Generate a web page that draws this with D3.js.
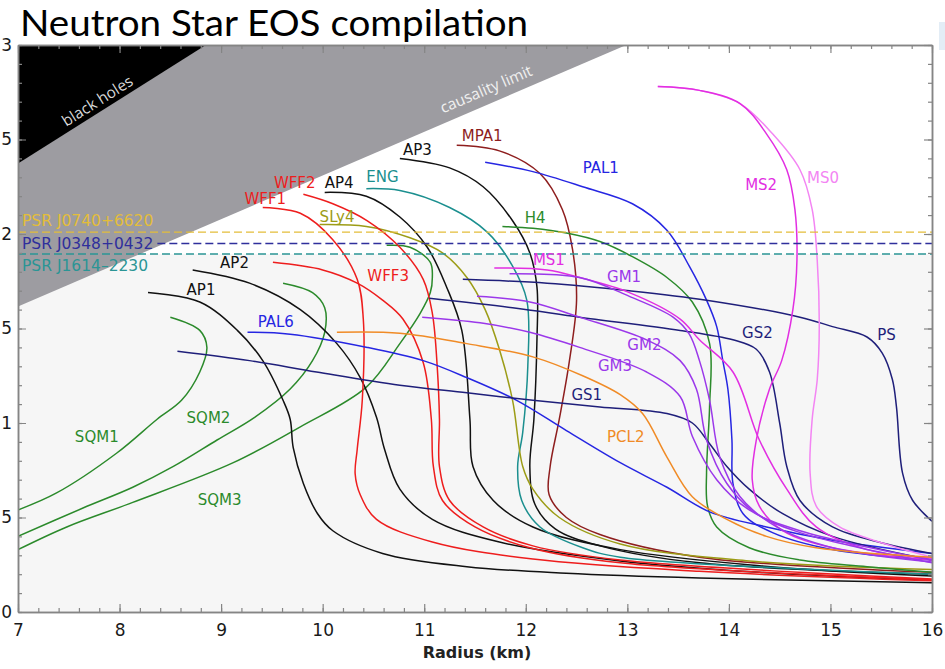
<!DOCTYPE html>
<html>
<head>
<meta charset="utf-8">
<script src="https://cdn.jsdelivr.net/npm/d3@7"></script>
<style>
body { margin: 0; background: #fff; }
svg { display: block; }
</style>
</head>
<body>
<script>
// mass-radius curves, [radius km, mass Msun]
var sqm1 = [[8.50,1.56],[8.79,1.49],[8.86,1.40],[8.79,1.27],[8.61,1.12],[8.37,1.02],[7.97,0.84],[7.38,0.63],[7.00,0.54]];
var sqm2 = [[9.61,1.74],[9.90,1.69],[10.02,1.61],[10.02,1.48],[9.90,1.33],[9.68,1.18],[9.33,1.03],[8.96,0.91],[8.53,0.77],[8.13,0.66],[7.64,0.55],[7.00,0.40]];
var sqm3 = [[10.63,1.94],[10.86,1.93],[11.06,1.85],[11.08,1.77],[11.06,1.69],[10.96,1.58],[10.76,1.42],[10.43,1.19],[9.78,0.98],[9.12,0.79],[8.13,0.58],[7.48,0.45],[7.00,0.33]];
var ap1 = [[8.28,1.69],[8.79,1.64],[9.16,1.49],[9.41,1.33],[9.61,1.12],[9.68,1.02],[9.71,0.87],[9.81,0.68],[9.95,0.52],[10.10,0.43],[10.59,0.31],[11.42,0.24],[12.40,0.205],[13.71,0.18],[16.0,0.155]];
var ap2 = [[8.72,1.81],[9.28,1.74],[9.78,1.60],[10.14,1.42],[10.37,1.24],[10.53,1.03],[10.61,0.86],[10.76,0.65],[11.08,0.49],[11.74,0.37],[12.93,0.27],[14.30,0.21],[16.0,0.17]];
var ap3 = [[10.76,2.40],[11.25,2.35],[11.58,2.25],[11.87,2.07],[12.04,1.90],[12.11,1.72],[12.11,1.44],[12.08,1.02],[12.04,0.77],[12.09,0.57],[12.29,0.44],[12.73,0.35],[13.71,0.26],[16.0,0.20]];
var ap4 = [[10.02,2.22],[10.43,2.20],[10.76,2.09],[11.03,1.93],[11.22,1.72],[11.37,1.49],[11.45,1.02],[11.48,0.77],[11.68,0.59],[12.07,0.45],[12.93,0.33],[14.30,0.245],[16.0,0.19]];
var mpa1 = [[11.32,2.47],[11.74,2.44],[12.14,2.32],[12.36,2.13],[12.46,1.92],[12.50,1.65],[12.43,1.33],[12.33,1.02],[12.24,0.77],[12.23,0.62],[12.40,0.50],[12.73,0.41],[13.71,0.29],[16.0,0.21]];
var eng = [[10.43,2.24],[10.76,2.23],[11.25,2.14],[11.62,2.01],[11.87,1.83],[12.01,1.65],[12.02,1.30],[11.97,0.95],[11.92,0.77],[11.96,0.59],[12.14,0.45],[12.56,0.34],[12.93,0.29],[16.0,0.20]];
var sly4 = [[9.97,2.05],[10.43,2.04],[10.86,1.98],[11.18,1.90],[11.42,1.77],[11.60,1.60],[11.74,1.39],[11.87,1.12],[11.97,0.77],[12.07,0.65],[12.33,0.50],[12.93,0.36],[14.20,0.27],[16.0,0.225]];
var wff1 = [[9.41,2.14],[9.78,2.11],[10.10,1.97],[10.34,1.76],[10.40,1.55],[10.39,1.12],[10.34,0.86],[10.32,0.73],[10.37,0.62],[10.53,0.49],[11.08,0.37],[12.07,0.28],[13.71,0.215],[16.0,0.165]];
var wff2 = [[9.81,2.21],[10.10,2.16],[10.44,2.07],[10.76,1.93],[10.99,1.76],[11.08,1.58],[11.13,1.28],[11.15,1.02],[11.15,0.77],[11.25,0.59],[11.58,0.45],[12.07,0.35],[12.93,0.275],[16.0,0.175]];
var wff3 = [[9.51,1.85],[10.00,1.81],[10.34,1.74],[10.59,1.65],[10.79,1.55],[10.99,1.32],[11.07,1.02],[11.09,0.77],[11.18,0.59],[11.50,0.45],[12.04,0.34],[12.93,0.26],[16.0,0.17]];
var h4 = [[11.77,2.04],[12.07,2.03],[12.40,2.005],[12.73,1.96],[13.05,1.88],[13.39,1.77],[13.64,1.64],[13.81,1.42],[13.81,1.09],[13.78,0.74],[13.79,0.56],[13.88,0.45],[14.20,0.34],[14.70,0.275],[15.36,0.24],[16.0,0.21]];
var pal1 = [[11.60,2.38],[12.07,2.33],[12.56,2.25],[13.05,2.16],[13.39,2.02],[13.61,1.83],[13.78,1.65],[13.88,1.51],[13.94,1.33],[13.99,1.18],[14.03,0.91],[14.04,0.68],[14.14,0.52],[14.43,0.42],[15.02,0.33],[16.0,0.275]];
var pal6 = [[9.26,1.48],[9.68,1.47],[10.44,1.40],[10.99,1.33],[11.42,1.24],[11.91,1.12],[12.40,0.96],[12.93,0.79],[13.39,0.66],[13.81,0.53],[14.37,0.45],[15.02,0.38],[16.0,0.31]];
var gs1 = [[8.57,1.38],[9.28,1.33],[9.94,1.27],[10.76,1.20],[11.42,1.16],[12.07,1.12],[12.73,1.085],[13.39,1.05],[13.64,1.00],[13.81,0.89],[13.98,0.77],[14.20,0.65],[14.53,0.52],[15.02,0.40],[16.0,0.275]];
var gs2 = [[11.05,1.66],[11.87,1.61],[12.53,1.56],[13.52,1.49],[14.04,1.44],[14.27,1.39],[14.40,1.27],[14.50,1.00],[14.57,0.77],[14.70,0.59],[15.02,0.45],[15.51,0.365],[16.0,0.31]];
var ps = [[11.38,1.76],[12.21,1.74],[13.02,1.70],[13.78,1.65],[14.70,1.56],[15.02,1.51],[15.36,1.455],[15.51,1.37],[15.61,1.23],[15.65,1.085],[15.71,0.735],[15.81,0.59],[16.0,0.48]];
var ms0 = [[13.30,2.78],[13.71,2.76],[14.11,2.69],[14.43,2.53],[14.70,2.34],[14.82,2.13],[14.87,1.86],[14.89,1.51],[14.87,1.23],[14.82,1.02],[14.80,0.735],[14.86,0.56],[15.09,0.45],[15.51,0.365],[16.0,0.29]];
var ms1 = [[11.69,1.82],[12.21,1.81],[12.53,1.77],[13.02,1.69],[13.52,1.55],[13.71,1.44],[14.04,1.27],[14.30,0.91],[14.57,0.65],[14.86,0.45],[15.36,0.33],[16.0,0.285]];
var ms2 = [[13.30,2.78],[13.71,2.76],[14.11,2.69],[14.37,2.53],[14.57,2.34],[14.65,2.13],[14.67,1.86],[14.63,1.60],[14.52,1.33],[14.40,1.18],[14.27,0.91],[14.23,0.70],[14.30,0.56],[14.53,0.43],[15.02,0.34],[16.0,0.275]];
var gm1 = [[11.84,1.79],[12.53,1.77],[13.02,1.67],[13.45,1.56],[13.61,1.47],[13.71,1.33],[13.81,1.12],[13.91,0.82],[14.11,0.61],[14.47,0.45],[15.02,0.34],[16.0,0.265]];
var gm2 = [[11.52,1.67],[12.04,1.64],[12.53,1.56],[13.19,1.44],[13.52,1.33],[13.68,1.18],[13.78,0.91],[13.98,0.68],[14.27,0.52],[14.70,0.42],[15.29,0.34],[16.0,0.26]];
var gm3 = [[10.98,1.56],[11.55,1.53],[12.04,1.48],[12.53,1.40],[13.19,1.27],[13.52,1.14],[13.64,0.93],[13.88,0.70],[14.20,0.54],[14.70,0.43],[16.0,0.275]];
var pcl2 = [[10.14,1.48],[10.76,1.475],[11.42,1.42],[12.07,1.35],[12.56,1.25],[12.93,1.15],[13.15,1.05],[13.39,0.82],[13.64,0.61],[13.98,0.49],[14.37,0.40],[14.86,0.34],[16.0,0.29]];

var eosNames = ["SQM1","SQM2","SQM3","AP1","AP2","AP3","AP4","MPA1","ENG","SLy4","WFF1","WFF2","WFF3","H4","PAL1","PAL6","GS1","GS2","PS","MS0","MS1","MS2","GM1","GM2","GM3","PCL2"];
var eosCurves = [sqm1,sqm2,sqm3,ap1,ap2,ap3,ap4,mpa1,eng,sly4,wff1,wff2,wff3,h4,pal1,pal6,gs1,gs2,ps,ms0,ms1,ms2,gm1,gm2,gm3,pcl2];
// where each name is written, [radius, mass]
var labelAt = [[7.56,0.90],[8.66,1.00],[8.77,0.566],[8.66,1.677],[8.99,1.82],[10.79,2.418],[10.02,2.243],[11.37,2.492],[10.43,2.275],[9.97,2.063],[9.23,2.159],[9.52,2.243],[10.44,1.751],[11.99,2.058],[12.56,2.323],[9.36,1.508],[12.45,1.122],[14.13,1.45],[15.46,1.439],[14.77,2.27],[12.07,1.836],[14.16,2.233],[12.80,1.746],[13.0,1.386],[12.71,1.275],[12.80,0.899]];

// measured pulsar masses (Msun)
var psrNames = ["PSR J0740+6620","PSR J0348+0432","PSR J1614\u20132230"];
var psrMass = [2.01, 1.95, 1.894];

var xTicks = [7,8,9,10,11,12,13,14,15,16];
var yTicks = [0,0.5,1,1.5,2,2.5,3];

// R = k * M for the two forbidden regions (km per solar mass)
var bhRatio = 2.95, causalRatio = 4.33;

var colors = {
  black: "#111111", red: "#ee1d1d", mpa: "#8e1e1e", teal: "#1b8f8f", olive: "#9c9c16",
  green: "#2b8a2b", blue: "#2626e2", navy: "#1f1f7a", magenta: "#e22ee2", violet: "#f385f3",
  purple: "#9b38ea", orange: "#f08b26"
};
var eosColor = {
  SQM1: colors.green, SQM2: colors.green, SQM3: colors.green, AP1: colors.black, AP2: colors.black,
  AP3: colors.black, AP4: colors.black, MPA1: colors.mpa, ENG: colors.teal, SLy4: colors.olive,
  WFF1: colors.red, WFF2: colors.red, WFF3: colors.red, H4: colors.green, PAL1: colors.blue,
  PAL6: colors.blue, GS1: colors.navy, GS2: colors.navy, PS: colors.navy, MS0: colors.violet,
  MS1: colors.magenta, MS2: colors.magenta, GM1: colors.purple, GM2: colors.purple, GM3: colors.purple,
  PCL2: colors.orange
};
var psrColor = ["#e3bd3a", "#2f2f9c", "#2b9595"];

var svg = d3.select("body").append("svg")
  .attr("width", 945)
  .attr("height", 669);

var x = d3.scaleLinear().domain([7, 16]).range([18, 932]);
var y = d3.scaleLinear().domain([0, 3]).range([612, 45]);

var defs = svg.append("defs");
defs.append("clipPath").attr("id", "plotClip")
  .append("rect").attr("x", x(7)).attr("y", y(3)).attr("width", x(16) - x(7)).attr("height", y(0) - y(3));
defs.append("clipPath").attr("id", "pageClip")
  .append("rect").attr("x", 1.5).attr("y", 0).attr("width", 943).attr("height", 669);

// title
svg.append("text")
  .attr("x", 20).attr("y", 36)
  .attr("font-family", "Lato, 'Open Sans', sans-serif")
  .attr("font-size", "36px")
  .attr("textLength", 508)
  .attr("lengthAdjust", "spacingAndGlyphs")
  .attr("fill", "#000")
  .text("Neutron Star EOS compilation");

// plot background: white above the lightest pulsar, pale grey below
var plot = svg.append("g").attr("clip-path", "url(#plotClip)");
plot.append("rect")
  .attr("x", x(7)).attr("y", y(3)).attr("width", x(16) - x(7)).attr("height", y(0) - y(3))
  .attr("fill", "#f6f6f6");
plot.append("rect")
  .attr("x", x(7)).attr("y", y(3)).attr("width", x(16) - x(7)).attr("height", y(d3.min(psrMass)) - y(3))
  .attr("fill", "#ffffff");

var poly = d3.line().x(function(d) { return x(d[0]); }).y(function(d) { return y(d[1]); });

// causality limit and black hole regions
plot.append("path")
  .attr("d", poly([[7, 3], [7, 7 / causalRatio], [causalRatio * 3, 3]]) + "Z")
  .attr("fill", "#9d9ca1");
plot.append("path")
  .attr("d", poly([[7, 3], [7, 7 / bhRatio], [bhRatio * 3, 3]]) + "Z")
  .attr("fill", "#000");

function slopeAngle(k) {
  // screen angle of the line R = k*M
  var dx = x(k * 3) - x(0), dy = y(3) - y(0);
  return Math.atan2(dy, dx) * 180 / Math.PI;
}
svg.append("text")
  .attr("transform", "translate(" + x(7.81) + "," + y(2.68) + ") rotate(" + slopeAngle(bhRatio) + ")")
  .attr("text-anchor", "middle")
  .attr("font-family", "'Open Sans', sans-serif").attr("font-size", "15.5px")
  .attr("fill", "#d8d8d8")
  .text("black holes");
svg.append("text")
  .attr("transform", "translate(" + x(11.63) + "," + y(2.74) + ") rotate(" + slopeAngle(causalRatio) + ")")
  .attr("text-anchor", "middle")
  .attr("font-family", "'Open Sans', sans-serif").attr("font-size", "15.5px")
  .attr("fill", "#f0f0f0")
  .text("causality limit");

// EOS curves
var curve = d3.line()
  .x(function(d) { return x(d[0]); })
  .y(function(d) { return y(d[1]); })
  .curve(d3.curveCatmullRom.alpha(0.5));

plot.selectAll("path.eos")
  .data(eosCurves)
  .enter()
  .append("path")
  .attr("class", "eos")
  .attr("d", curve)
  .attr("fill", "none")
  .attr("stroke", function(d, i) { return eosColor[eosNames[i]]; })
  .attr("stroke-width", 1.5);

svg.selectAll("text.eosLabel")
  .data(eosNames)
  .enter()
  .append("text")
  .attr("class", "eosLabel")
  .attr("x", function(d, i) { return x(labelAt[i][0]); })
  .attr("y", function(d, i) { return y(labelAt[i][1]); })
  .attr("font-family", "'DejaVu Sans', sans-serif")
  .attr("font-size", "15px")
  .attr("fill", function(d) { return eosColor[d]; })
  .text(function(d) { return d; });

// pulsar mass lines and names
var psrText = svg.selectAll("text.psr")
  .data(psrNames)
  .enter()
  .append("text")
  .attr("class", "psr")
  .attr("x", 22)
  .attr("y", function(d, i) { return y(psrMass[i]) + [-6, 5.5, 17][i]; })
  .attr("font-family", "'DejaVu Sans', sans-serif")
  .attr("font-size", "15.5px")
  .attr("fill", function(d, i) { return psrColor[i]; })
  .text(function(d) { return d; });

var midEnd = 22 + psrText.nodes()[1].getComputedTextLength() + 4;
plot.selectAll("line.psr")
  .data(psrMass)
  .enter()
  .append("line")
  .attr("x1", function(d, i) { return i === 1 ? midEnd : x(7); })
  .attr("x2", x(16))
  .attr("y1", function(d) { return y(d); })
  .attr("y2", function(d) { return y(d); })
  .attr("stroke", function(d, i) { return psrColor[i]; })
  .attr("stroke-width", 1.4)
  .attr("stroke-dasharray", "8,4");

// frame and ticks, all pointing inward
var frameColor = "#858585";
function styleAxis(g) {
  g.selectAll("path.domain").attr("stroke", frameColor).attr("stroke-width", 1.5);
  g.selectAll(".tick line").attr("stroke", frameColor).attr("stroke-width", 1.2);
  g.selectAll(".tick text").attr("fill", "#1a1a1a")
    .attr("font-family", "'DejaVu Sans', sans-serif").attr("font-size", "17px");
}
var xMinor = d3.range(7, 16.001, 0.2);
var yMinor = d3.range(0, 3.001, 0.1);

svg.append("g").attr("transform", "translate(0," + y(0) + ")")
  .call(d3.axisBottom(x).tickValues(xMinor).tickSize(-4).tickSizeOuter(0).tickFormat(""))
  .call(styleAxis);
svg.append("g").attr("transform", "translate(0," + y(0) + ")")
  .call(d3.axisBottom(x).tickValues(xTicks).tickSize(-8).tickSizeOuter(0).tickPadding(12).tickFormat(d3.format("d")))
  .call(styleAxis);
svg.append("g").attr("transform", "translate(0," + y(3) + ")")
  .call(d3.axisTop(x).tickValues(xMinor).tickSize(-4).tickSizeOuter(0).tickFormat(""))
  .call(styleAxis);
svg.append("g").attr("transform", "translate(0," + y(3) + ")")
  .call(d3.axisTop(x).tickValues(xTicks).tickSize(-8).tickSizeOuter(0).tickFormat(""))
  .call(styleAxis);
svg.append("g").attr("transform", "translate(" + x(7) + ",0)")
  .call(d3.axisLeft(y).tickValues(yMinor).tickSize(-4).tickSizeOuter(0).tickFormat(""))
  .call(styleAxis);
// the source image is cropped on its left edge, so the labels are too
svg.append("g").attr("clip-path", "url(#pageClip)")
  .append("g").attr("transform", "translate(" + x(7) + ",0)")
  .call(d3.axisLeft(y).tickValues(yTicks).tickSize(-8).tickSizeOuter(0).tickPadding(6).tickFormat(d3.format("")))
  .call(styleAxis);
svg.append("g").attr("transform", "translate(" + x(16) + ",0)")
  .call(d3.axisRight(y).tickValues(yMinor).tickSize(-4).tickSizeOuter(0).tickFormat(""))
  .call(styleAxis);
svg.append("g").attr("transform", "translate(" + x(16) + ",0)")
  .call(d3.axisRight(y).tickValues(yTicks).tickSize(-8).tickSizeOuter(0).tickFormat(""))
  .call(styleAxis);

svg.append("text")
  .attr("x", (x(7) + x(16)) / 2 + 2)
  .attr("y", 658)
  .attr("text-anchor", "middle")
  .attr("font-family", "'DejaVu Sans', sans-serif")
  .attr("font-size", "16px")
  .attr("font-weight", "bold")
  .attr("fill", "#222")
  .text("Radius (km)");

// small pale strip at the top right edge of the source image
svg.append("rect").attr("x", 939).attr("y", 22).attr("width", 6).attr("height", 28).attr("fill", "#e3edf6");
</script>
</body>
</html>
